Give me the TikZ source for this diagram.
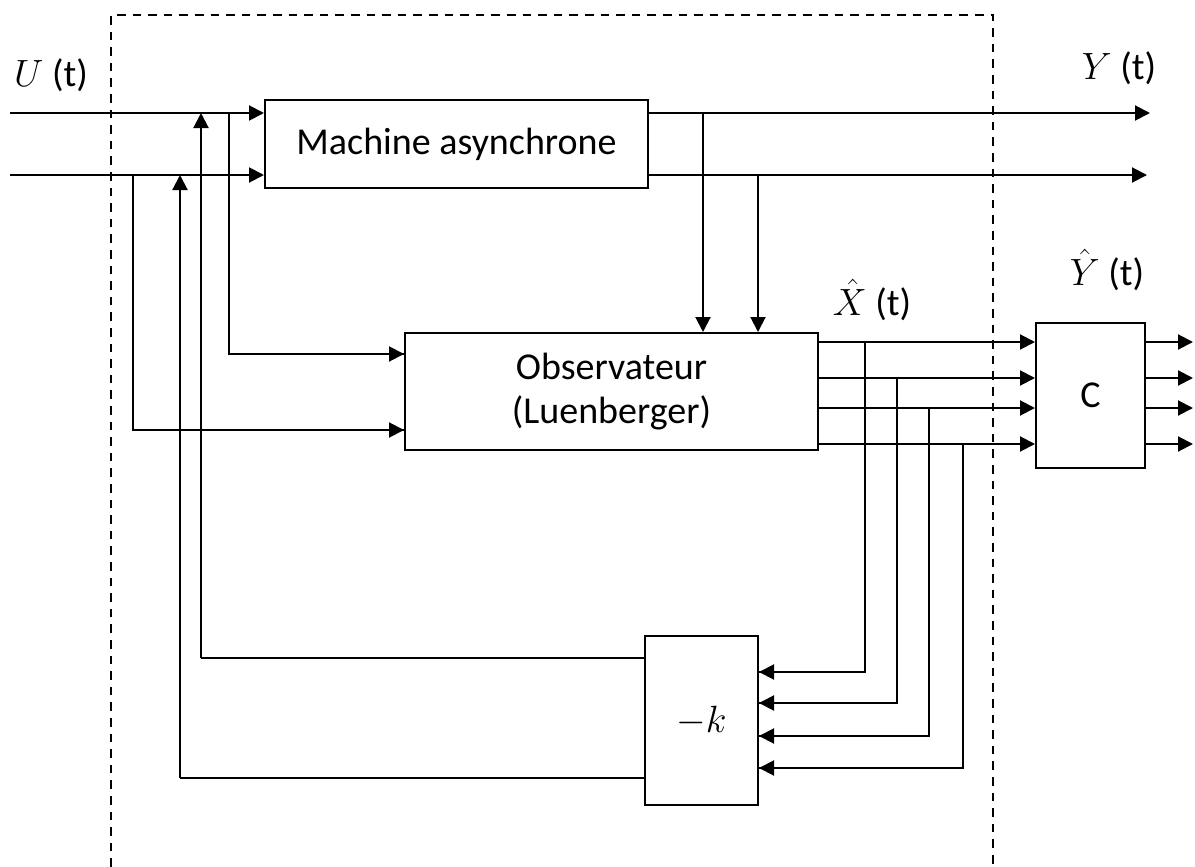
\RequirePackage{fix-cm}
\documentclass[tikz,border=0pt]{standalone}
\usepackage{fontspec}
\setmainfont{Carlito}
\usetikzlibrary{arrows.meta,calc}
\begin{document}
\begin{tikzpicture}[x=0.5pt,y=-0.5pt,
  blk/.style={draw,line width=1pt,rectangle,inner sep=0pt,font=\fontsize{19}{22}\selectfont,align=center},
  wire/.style={line width=1pt},
  arr/.style={line width=1pt,-{Triangle[length=7.5pt,width=7.5pt]}},
  lbl/.style={font=\fontsize{19}{23}\selectfont,inner sep=0pt},
  frame/.style={line width=1.2pt,dash pattern=on 4.3pt off 3.5pt}]
\useasboundingbox (0,0) rectangle (1195,867);
% blocks
\node[blk,minimum width=191.5pt,minimum height=44pt] (M) at (456.5,144) {Machine asynchrone};
\node[blk,minimum width=206.5pt,minimum height=58.5pt] (O) at (611.5,391.5) {Observateur\\(Luenberger)};
\node[blk,minimum width=54.5pt,minimum height=72.5pt] (C) at (1090.5,395.5) {C};
\node[blk,minimum width=56.5pt,minimum height=84.5pt] (K) at (701.5,720.5) {$-k$};
% dashed frame
\coordinate (f1) at (111,867);
\coordinate (f2) at (111,15);
\coordinate (f3) at (993,15);
\coordinate (f4) at (993,867);
\draw[frame] (f1) -- (f2) -- (f3) -- (f4);
% inputs
\coordinate (u1) at (10,113);
\coordinate (u2) at (10,175);
\draw[arr] (u1) -- (u1 -| M.west);
\draw[arr] (u2) -- (u2 -| M.west);
% outputs Y
\coordinate (y1) at (1150,113);
\coordinate (y2) at (1147,175);
\draw[arr] (y1 -| M.east) -- (y1);
\draw[arr] (y2 -| M.east) -- (y2);
% measurements to observer
\coordinate (d1) at (703,113);
\coordinate (d2) at (758,175);
\draw[arr] (d1) -- (d1 |- O.north);
\draw[arr] (d2) -- (d2 |- O.north);
% inputs to observer
\coordinate (b1) at (229,113);
\coordinate (b2) at (133,175);
\coordinate (oi1) at (405,354);
\coordinate (oi2) at (405,430);
\draw[wire] (b1) |- (oi1);
\draw[arr] (b1 |- oi1) -- (oi1 -| O.west);
\draw[wire] (b2) |- (oi2);
\draw[arr] (b2 |- oi2) -- (oi2 -| O.west);
% observer outputs
\foreach \i/\yy/\xx/\ky in {1/342/865/672, 2/378/897/703, 3/408/929/736, 4/444/963/768}{
  \coordinate (o\i) at (818,\yy);
  \coordinate (v\i) at (\xx,\yy);
  \coordinate (k\i) at (758,\ky);
  \coordinate (c\i) at (1193,\yy);
  \draw[arr] (o\i -| O.east) -- (o\i -| C.west);
  \draw[wire] (v\i) |- (k\i);
  \draw[arr] (v\i |- k\i) -- (k\i -| K.east);
  \draw[arr] (o\i -| C.east) -- (c\i);
}
% feedback
\coordinate (g1) at (201,658);
\coordinate (g2) at (180,778);
\coordinate (t1) at (201,113);
\coordinate (t2) at (180,175);
\draw[wire] (g1 -| K.west) -- (g1);
\draw[arr] (g1) -- (t1);
\draw[wire] (g2 -| K.west) -- (g2);
\draw[arr] (g2) -- (t2);
% labels
\node[lbl] (lu) at (51,75) {$U$ (t)};
\node[lbl] (ly) at (1119,68) {$Y$ (t)};
\node[lbl] (lyh) at (1107,270) {$\hat{Y}$ (t)};
\node[lbl] (lxh) at (872,300) {$\hat{X}$ (t)};
\end{tikzpicture}
\end{document}
